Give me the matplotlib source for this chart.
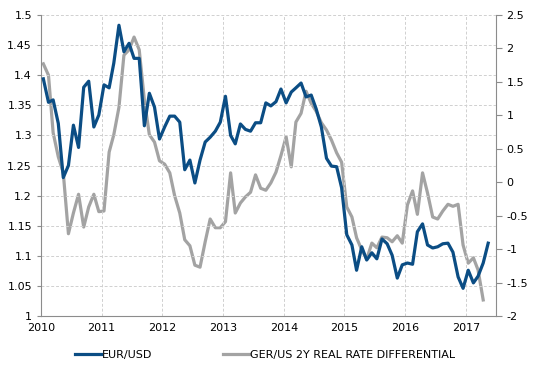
import numpy as np
import pandas as pd
import matplotlib
matplotlib.use("Agg")
import matplotlib.pyplot as plt
import matplotlib.dates as mdates

# monthly data, Jan 2010 .. May 2017
eurusd = [1.394, 1.355, 1.359, 1.320, 1.230, 1.250, 1.317, 1.280, 1.380, 1.390, 1.314, 1.334,
          1.384, 1.379, 1.420, 1.483, 1.439, 1.453, 1.428, 1.428, 1.316, 1.370, 1.347, 1.294,
          1.314, 1.332, 1.332, 1.322, 1.243, 1.259, 1.221, 1.259, 1.289, 1.297, 1.307, 1.322,
          1.365, 1.300, 1.286, 1.319, 1.310, 1.307, 1.321, 1.321, 1.354, 1.349, 1.356, 1.377,
          1.354, 1.372, 1.379, 1.387, 1.364, 1.367, 1.344, 1.314, 1.262, 1.249, 1.248, 1.213,
          1.135, 1.118, 1.076, 1.115, 1.093, 1.105, 1.095, 1.128, 1.120, 1.101, 1.063, 1.085,
          1.088, 1.086, 1.140, 1.153, 1.118, 1.113, 1.115, 1.120, 1.121, 1.106, 1.065, 1.046,
          1.076, 1.055, 1.066, 1.088, 1.121]

# Jan 2010 .. Apr 2017
rate_diff = [1.77, 1.60, 0.74, 0.38, 0.14, -0.77, -0.46, -0.18, -0.67, -0.37, -0.18, -0.44,
             -0.43, 0.45, 0.71, 1.12, 1.90, 1.98, 2.17, 1.98, 1.23, 0.71, 0.60, 0.32,
             0.27, 0.14, -0.20, -0.46, -0.86, -0.95, -1.24, -1.27, -0.89, -0.55, -0.68, -0.68,
             -0.59, 0.14, -0.46, -0.31, -0.22, -0.15, 0.11, -0.09, -0.12, -0.01, 0.15, 0.40,
             0.68, 0.23, 0.90, 1.03, 1.36, 1.18, 1.06, 0.89, 0.78, 0.63, 0.44, 0.30,
             -0.37, -0.52, -0.83, -1.01, -1.15, -0.91, -0.98, -0.82, -0.83, -0.89, -0.80, -0.91,
             -0.34, -0.13, -0.48, 0.14, -0.16, -0.52, -0.55, -0.43, -0.33, -0.36, -0.33, -0.94,
             -1.21, -1.13, -1.31, -1.76]

left_ticks = [1, 1.05, 1.1, 1.15, 1.2, 1.25, 1.3, 1.35, 1.4, 1.45, 1.5]
left_labels = ['1', '1.05', '1.1', '1.15', '1.2', '1.25', '1.3', '1.35', '1.4', '1.45', '1.5']
right_ticks = [-2, -1.5, -1, -0.5, 0, 0.5, 1, 1.5, 2, 2.5]
right_labels = ['-2', '-1.5', '-1', '-0.5', '0', '0.5', '1', '1.5', '2', '2.5']

dates_fx = pd.date_range('2010-01-01', periods=len(eurusd), freq='MS') + pd.Timedelta(days=14)
dates_rd = dates_fx[:len(rate_diff)]

blue = '#0b4d84'
grey = '#a3a3a3'
axc = '#8c8c8c'

plt.rcParams['font.family'] = ['DejaVu Sans']
fig = plt.figure(figsize=(5.41, 3.80), dpi=100)
ax = fig.add_axes([0.0758, 0.1684, 0.841, 0.7921])
ax2 = ax.twinx()

l1, = ax.plot(dates_fx, eurusd, color=blue, lw=2.3, label='EUR/USD', zorder=3)
l2, = ax2.plot(dates_rd, rate_diff, color=grey, lw=2.3, label='GER/US 2Y REAL RATE DIFFERENTIAL', zorder=2)
ax.set_zorder(ax2.get_zorder() + 1)
ax.patch.set_visible(False)

ax.set_xlim(pd.Timestamp('2010-01-01'), pd.Timestamp('2017-07-01'))
ax.set_ylim(1, 1.5)
ax2.set_ylim(-2, 2.5)
ax.set_yticks(left_ticks)
ax.set_yticklabels(left_labels)
ax2.set_yticks(right_ticks)
ax2.set_yticklabels(right_labels)
ax.xaxis.set_major_locator(mdates.YearLocator())
ax.xaxis.set_major_formatter(mdates.DateFormatter('%Y'))

ax.grid(True, color='#d0d0d0', linestyle=(0, (3, 2)), lw=0.7)
for a in (ax, ax2):
    a.spines['top'].set_visible(False)
    for s in ('left', 'right', 'bottom'):
        a.spines[s].set_color(axc)
    a.tick_params(colors=axc, labelcolor='black', labelsize=8, width=0.8)
ax.tick_params(axis='y', length=3)
ax2.tick_params(axis='y', length=4)
ax.tick_params(axis='x', length=0, pad=5)
ax.spines['right'].set_visible(False)
ax2.spines['left'].set_visible(False)
ax2.spines['bottom'].set_visible(False)

fig.legend(handles=[l1, l2], loc='center', bbox_to_anchor=(0.49, 0.065), ncol=2, frameon=False,
           fontsize=8, handlelength=2.4, handletextpad=0.1, columnspacing=6.3)

fig.savefig('out.png', dpi=100)
